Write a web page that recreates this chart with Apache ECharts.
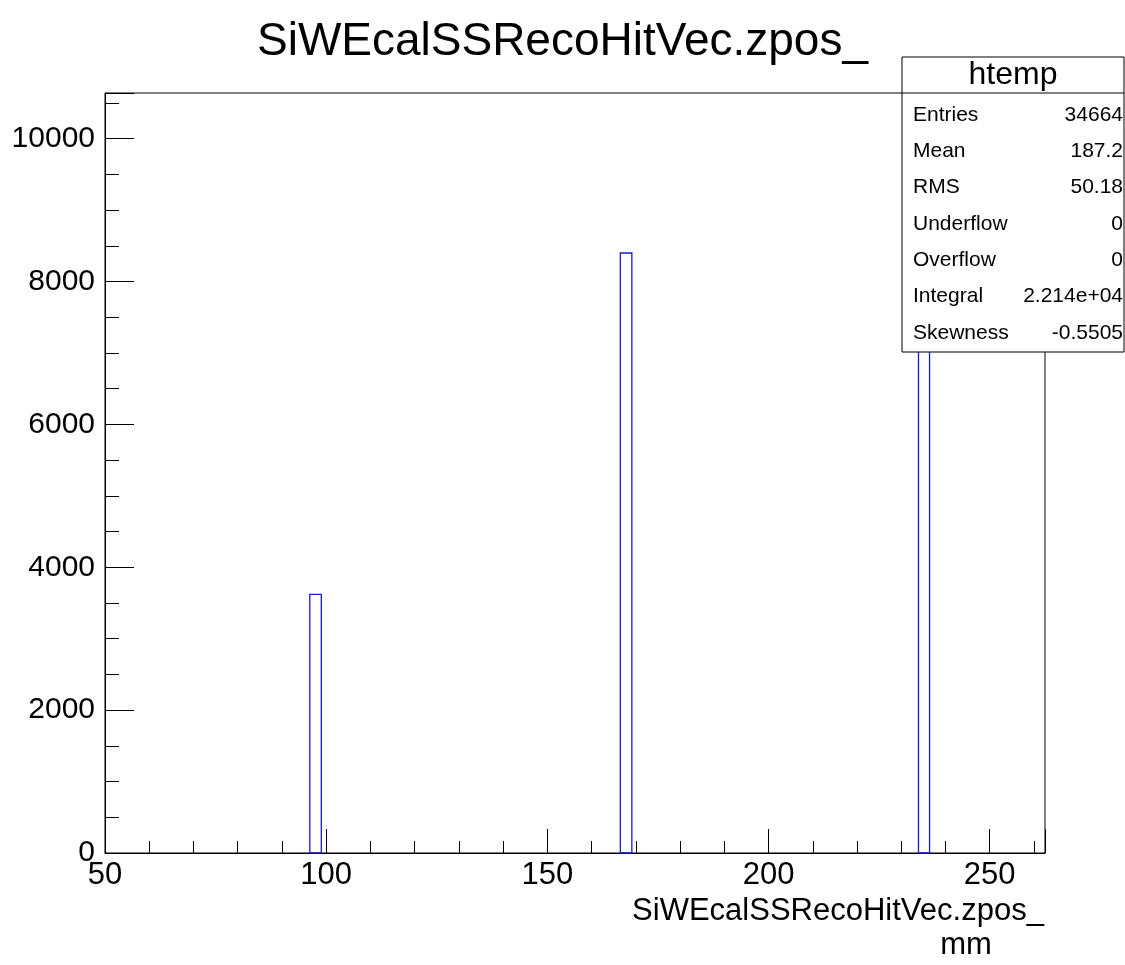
<!DOCTYPE html>
<html>
<head>
<meta charset="utf-8">
<script src="https://cdn.jsdelivr.net/npm/echarts@6/dist/echarts.min.js"></script>
<style>
  html, body { margin: 0; padding: 0; background: #fff; }
  #main { width: 1125px; height: 965px; }
</style>
</head>
<body>
<div id="main"></div>
<script>
// histogram bins (low edge, high edge, content)
var binLow = [96.3, 166.5, 233.9];
var binHigh = [98.9, 169.1, 236.4];
var binCount = [3620, 8400, 10130];

// stats box
var statNames = ['Entries', 'Mean', 'RMS', 'Underflow', 'Overflow', 'Integral', 'Skewness'];
var statValues = ['34664', '187.2', '50.18', '0', '0', '2.214e+04', '-0.5505'];

var font = 'Liberation Sans, Arial, Helvetica, sans-serif';

var histData = binLow.map(function (lo, i) {
    return [lo, binHigh[i], binCount[i]];
});

// stats box graphic
var boxLeft = 902, boxTop = 57, boxW = 222, boxH = 295, rowH = 36.3;
var statGraphics = [
    {
        type: 'rect', z: 100,
        shape: { x: boxLeft, y: boxTop, width: boxW, height: boxH },
        style: { fill: '#fff', stroke: '#000', lineWidth: 1 }
    },
    {
        type: 'line', z: 101,
        shape: { x1: boxLeft, y1: 93, x2: boxLeft + boxW, y2: 93 },
        style: { stroke: '#000', lineWidth: 1 }
    },
    {
        type: 'text', z: 101, x: boxLeft + boxW / 2, y: 75,
        style: { text: 'htemp', font: '32px ' + font, fill: '#000', align: 'center', verticalAlign: 'middle' }
    }
];
statNames.forEach(function (n, i) {
    var y = 115 + i * rowH;
    statGraphics.push({
        type: 'text', z: 101, x: boxLeft + 11, y: y,
        style: { text: n, font: '21px ' + font, fill: '#000', align: 'left', verticalAlign: 'middle' }
    });
    statGraphics.push({
        type: 'text', z: 101, x: boxLeft + boxW - 1, y: y,
        style: { text: statValues[i], font: '21px ' + font, fill: '#000', align: 'right', verticalAlign: 'middle' }
    });
});
statGraphics.push({
    type: 'text', z: 101, x: 966, y: 945,
    style: { text: 'mm', font: '31px ' + font, fill: '#000', align: 'center', verticalAlign: 'middle' }
});

var option = {
    animation: false,
    title: {
        text: 'SiWEcalSSRecoHitVec.zpos_',
        left: 'center',
        top: 14,
        textStyle: { fontFamily: font, fontSize: 46, fontWeight: 'normal', color: '#000' }
    },
    grid: {
        left: 105, right: 80, top: 93, bottom: 112,
        outerBoundsMode: 'none',
        containLabel: false,
        show: true,
        borderColor: '#000',
        borderWidth: 1
    },
    xAxis: {
        type: 'value',
        min: 50,
        max: 262.5,
        interval: 50,
        name: 'SiWEcalSSRecoHitVec.zpos_',
        nameLocation: 'middle',
        nameGap: 31,
        nameTextStyle: {
            fontFamily: font, fontSize: 31, color: '#000',
            padding: [0, 0, 0, 526]
        },
        axisLine: { show: true, lineStyle: { color: '#000', width: 1 } },
        axisTick: { show: true, inside: true, length: 24, lineStyle: { color: '#000' } },
        minorTick: { show: true, splitNumber: 5, length: 12, lineStyle: { color: '#000' } },
        axisLabel: {
            fontFamily: font, fontSize: 31, color: '#000', margin: 7,
            showMaxLabel: false,
            formatter: function (v) { return String(v); }
        },
        splitLine: { show: false }
    },
    yAxis: {
        type: 'value',
        min: 0,
        max: 10640,
        interval: 2000,
        axisLine: { show: true, lineStyle: { color: '#000', width: 1 } },
        axisTick: { show: true, inside: true, length: 29, lineStyle: { color: '#000' } },
        minorTick: { show: true, splitNumber: 4, length: 14, lineStyle: { color: '#000' } },
        axisLabel: {
            fontFamily: font, fontSize: 30, color: '#000', margin: 10,
            showMaxLabel: false,
            formatter: function (v) { return String(v); }
        },
        splitLine: { show: false }
    },
    graphic: statGraphics,
    series: [
        {
            type: 'custom',
            data: histData,
            encode: { x: [0, 1], y: 2 },
            renderItem: function (params, api) {
                var p0 = api.coord([api.value(0), api.value(2)]);
                var p1 = api.coord([api.value(1), 0]);
                return {
                    type: 'rect',
                    shape: { x: p0[0], y: p0[1], width: p1[0] - p0[0], height: p1[1] - p0[1] },
                    style: { fill: 'none', stroke: '#1a1acc', lineWidth: 1.3 }
                };
            }
        }
    ]
};

var chart = echarts.init(document.getElementById('main'));
chart.setOption(option);
</script>
</body>
</html>
